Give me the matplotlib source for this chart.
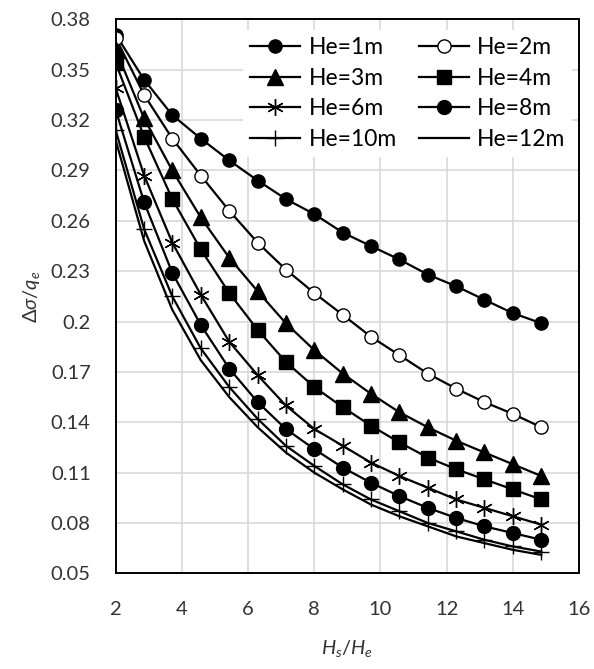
import matplotlib.pyplot as plt

# Hs/He sample positions (same for every curve)
x_vals = [2.0, 2.86, 3.71, 4.57, 5.43, 6.29, 7.14, 8.0, 8.86, 9.71,
          10.57, 11.43, 12.29, 13.14, 14.0, 14.86]

he_1m = [0.371, 0.344, 0.323, 0.309, 0.296, 0.284, 0.273, 0.264, 0.253, 0.245,
         0.237, 0.228, 0.221, 0.213, 0.205, 0.199]
he_2m = [0.369, 0.335, 0.309, 0.287, 0.266, 0.247, 0.231, 0.217, 0.204, 0.191,
         0.180, 0.169, 0.160, 0.152, 0.145, 0.137]
he_3m = [0.362, 0.321, 0.290, 0.262, 0.238, 0.218, 0.199, 0.183, 0.169, 0.157,
         0.146, 0.137, 0.129, 0.122, 0.115, 0.108]
he_4m = [0.354, 0.310, 0.273, 0.243, 0.217, 0.195, 0.176, 0.161, 0.149, 0.138,
         0.128, 0.119, 0.112, 0.106, 0.100, 0.094]
he_6m = [0.339, 0.287, 0.247, 0.216, 0.188, 0.168, 0.150, 0.136, 0.126, 0.116,
         0.108, 0.101, 0.094, 0.089, 0.084, 0.079]
he_8m = [0.326, 0.271, 0.229, 0.198, 0.172, 0.152, 0.136, 0.124, 0.113, 0.104,
         0.096, 0.089, 0.083, 0.078, 0.074, 0.070]
he_10m = [0.314, 0.255, 0.215, 0.184, 0.161, 0.142, 0.126, 0.114, 0.103, 0.094,
          0.087, 0.080, 0.075, 0.070, 0.066, 0.063]
he_12m = [0.308, 0.248, 0.207, 0.177, 0.155, 0.137, 0.122, 0.110, 0.100, 0.091,
          0.084, 0.078, 0.072, 0.068, 0.064, 0.061]

labels = ['He=1m', 'He=2m', 'He=3m', 'He=4m', 'He=6m', 'He=8m', 'He=10m', 'He=12m']
series = [he_1m, he_2m, he_3m, he_4m, he_6m, he_8m, he_10m, he_12m]

plt.rcParams['font.family'] = ['Lato', 'DejaVu Sans']
plt.rcParams['mathtext.fontset'] = 'custom'
plt.rcParams['mathtext.it'] = 'Lato:italic'
plt.rcParams['mathtext.rm'] = 'Lato'

fig = plt.figure(figsize=(5.94, 6.69), dpi=100)
ax = fig.add_axes([0.1948, 0.143, 0.78, 0.828])

styles = [
    dict(marker='o', ms=9.5, mfc='black'),
    dict(marker='o', ms=9.5, mfc='white'),
    dict(marker='^', ms=11, mfc='black'),
    dict(marker='s', ms=10.5, mfc='black'),
    dict(marker=(6, 2, 0), ms=12, mew=1.0),
    dict(marker='o', ms=10, mfc='black'),
    dict(marker='+', ms=12, mew=1.0),
    dict(marker=None),
]

lines = []
for y, lab, st in zip(series, labels, styles):
    ln, = ax.plot(x_vals, y, color='black', lw=1.6, mec='black', label=lab, **st)
    lines.append(ln)

ax.set_xlim(2, 16)
ax.set_ylim(0.05, 0.38)
ax.set_xticks([2, 4, 6, 8, 10, 12, 14, 16])
ax.set_yticks([0.05, 0.08, 0.11, 0.14, 0.17, 0.2, 0.23, 0.26, 0.29, 0.32, 0.35, 0.38])
ax.set_yticklabels(['0.05', '0.08', '0.11', '0.14', '0.17', '0.2', '0.23', '0.26',
                    '0.29', '0.32', '0.35', '0.38'])
ax.tick_params(axis='both', length=0, labelsize=14.5, colors='#333333')
ax.tick_params(axis='x', pad=20)
ax.tick_params(axis='y', pad=18)
ax.grid(True, color='#d9d9d9', lw=1.2)
ax.set_axisbelow(True)
for s in ax.spines.values():
    s.set_linewidth(1.4)
    s.set_color('black')

ax.set_xlabel(r'$H_s/H_e$', fontsize=14.5, color='#333333', labelpad=14)
ax.set_ylabel(r'$\Delta\sigma/q_e$', fontsize=14.5, color='#333333', labelpad=6)

# legend filled row-wise like the original
order = [0, 2, 4, 6, 1, 3, 5, 7]
ax.legend([lines[i] for i in order], [labels[i] for i in order], ncol=2,
          loc='upper right', bbox_to_anchor=(1.01, 1.001), fontsize=16.5,
          frameon=True, facecolor='white', edgecolor='none', framealpha=1,
          fancybox=False, handlelength=2.2, handletextpad=0.35,
          columnspacing=0.95, labelspacing=0.42, borderpad=0.3)

fig.savefig('out.png', dpi=100)
